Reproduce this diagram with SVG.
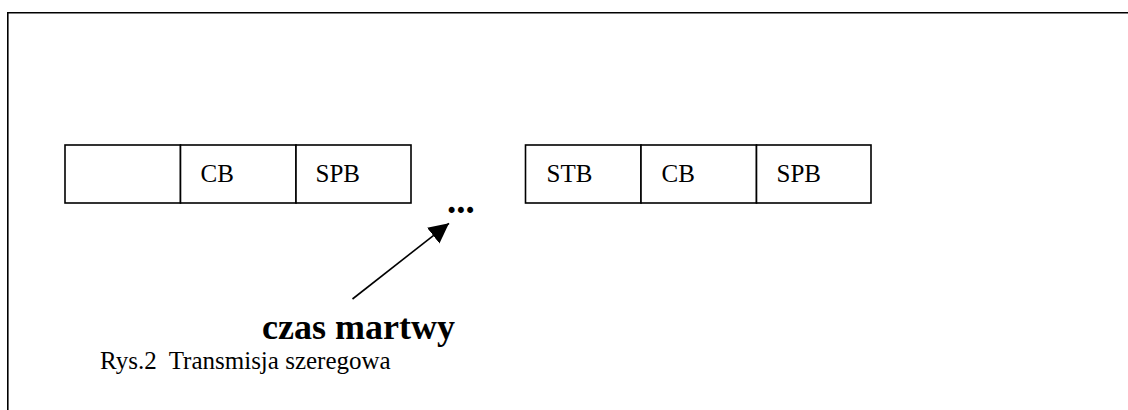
<svg xmlns="http://www.w3.org/2000/svg" width="1128" height="410" viewBox="0 0 1128 410">
<style>
.frame{fill:none;stroke:#000;stroke-width:1.6}
.cell{fill:#fff;stroke:#000;stroke-width:1.6}
.lbl{font-family:"Liberation Serif","Times New Roman",serif;font-size:25px;fill:#000}
.bold{font-family:"Liberation Serif","Times New Roman",serif;font-weight:bold;fill:#000}
.conn{stroke:#000;stroke-width:1.6;fill:none}
</style>
<defs>
<marker id="ah" markerUnits="userSpaceOnUse" markerWidth="22" markerHeight="22" refX="20" refY="10" orient="auto">
<path d="M0,0 L20,10 L0,20 Z" fill="#000"/>
</marker>
</defs>
<path class="frame" d="M7.8,420 V12.8 H1140"/>
<g id="frame-left">
<rect id="cell-l1" class="cell" x="65" y="145" width="115.5" height="58"/>
<g id="cell-l2"><rect class="cell" x="180.5" y="145" width="115.5" height="58"/><text class="lbl" x="200.5" y="182">CB</text></g>
<g id="cell-l3"><rect class="cell" x="296" y="145" width="115" height="58"/><text class="lbl" x="315.5" y="182">SPB</text></g>
</g>
<g id="frame-right">
<g id="cell-r1"><rect class="cell" x="525.5" y="145" width="115.5" height="58"/><text class="lbl" x="546.5" y="182">STB</text></g>
<g id="cell-r2"><rect class="cell" x="641" y="145" width="115.5" height="58"/><text class="lbl" x="661.5" y="182">CB</text></g>
<g id="cell-r3"><rect class="cell" x="756.5" y="145" width="114.5" height="58"/><text class="lbl" x="776.5" y="182">SPB</text></g>
</g>
<g id="dots"><text class="bold" x="447" y="213" style="font-size:37px">...</text></g>
<g id="connectors">
<line class="conn" x1="352.5" y1="299" x2="449" y2="223.3" marker-end="url(#ah)"/>
</g>
<g id="label-dead-time"><text class="bold" x="262" y="339" style="font-size:36px">czas martwy</text></g>
<g id="caption"><text class="lbl" x="100" y="369" xml:space="preserve" style="white-space:pre">Rys.2  Transmisja szeregowa</text></g>
</svg>
